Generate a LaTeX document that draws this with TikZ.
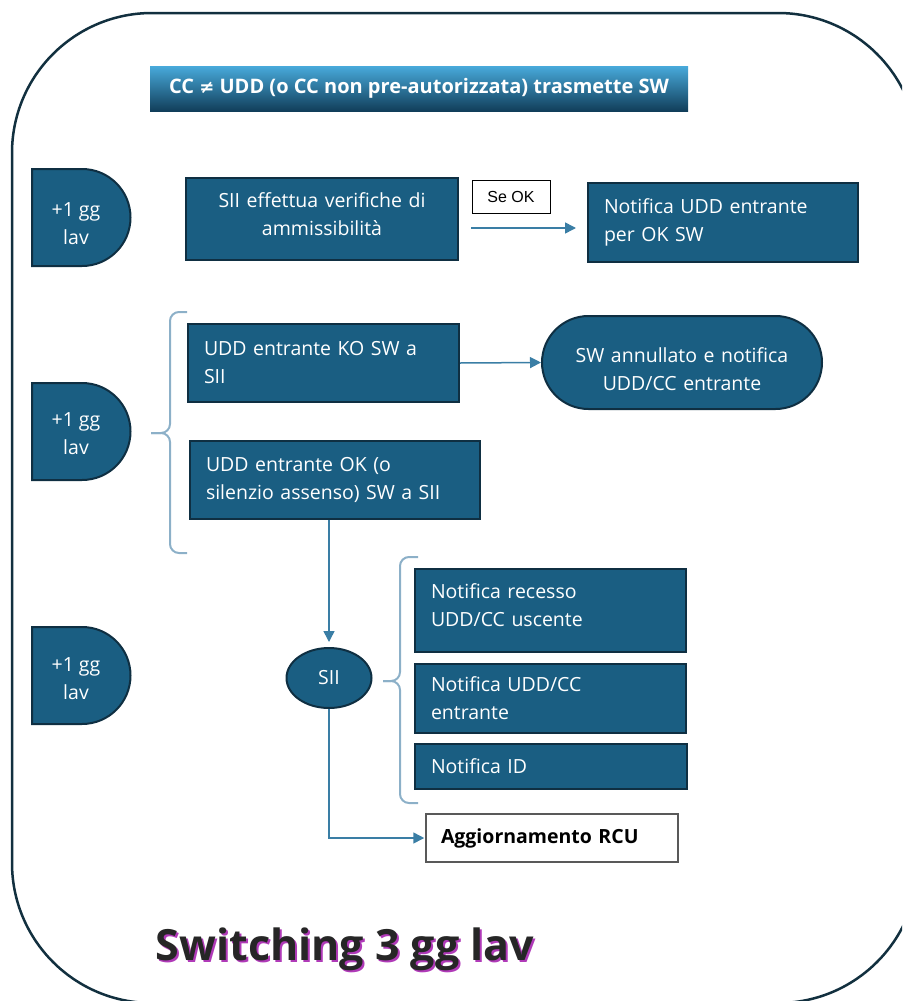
\documentclass[tikz,border=0pt]{standalone}
\usepackage{fontspec}
\setmainfont{Open Sans}
\newfontfamily\symf{DejaVu Sans}
\newfontfamily\arialf{Liberation Sans}
\usetikzlibrary{arrows.meta,calc,shapes.geometric}
\definecolor{boxfill}{HTML}{1A5E82}
\definecolor{boxline}{HTML}{0F2F42}
\definecolor{conn}{HTML}{3A7EA5}
\definecolor{bracec}{HTML}{8CB0C8}
\definecolor{outlinec}{HTML}{12303F}
\definecolor{bantop}{HTML}{48AADB}
\definecolor{banbot}{HTML}{113E5A}
\definecolor{shadowc}{HTML}{B03AB8}
\definecolor{titlec}{HTML}{262626}
\tikzset{
  bx/.style={draw=boxline, line width=2pt, fill=boxfill, text=white, inner ysep=0pt,
    font=\fontsize{19.5}{28}\selectfont},
  bxc/.style={bx, align=center, inner xsep=0pt},
  bxl/.style={bx, align=left, inner xsep=16pt},
  dayshape/.style={draw=boxline, line width=2pt, fill=boxfill},
  daytext/.style={text=white, align=center, font=\fontsize{19.5}{28}\selectfont},
  arr/.style={draw=conn, line width=1.5pt, -{Triangle[length=11pt,width=11pt]}},
  brc/.style={draw=bracec, line width=2pt, rounded corners=9pt},
}
\begin{document}
\begin{tikzpicture}[x=1pt,y=-1pt]
\useasboundingbox (0,0) rectangle (902,1001);
\clip (0,0) rectangle (902,1001);
% outer frame
\draw[draw=outlinec, line width=2.5pt, rounded corners=140pt] (12,13) rectangle (918,1003);
% banner
\node (ban) [top color=bantop, bottom color=banbot, minimum width=538pt, minimum height=45pt,
  inner sep=0pt, text=white, font=\bfseries\fontsize{20}{24}\selectfont]
  at (419,88.5) {CC {\symf\bfseries\fontsize{18}{24}\selectfont ≠} UDD (o CC non pre-autorizzata) trasmette SW};
% day markers
\foreach \t/\n/\ty in {169/d1/224, 383/d2/433.5, 627/d3/678.5}{
  \draw[dayshape] (32,\t) -- (82,\t) arc[start angle=-90, end angle=90, radius=48.5] -- (32,\t+97) -- cycle;
  \node (\n) [daytext] at (76,\ty) {+1 gg\\lav};
}
% row 1
\node (sii1) [bxc, text width=272pt, minimum height=82pt] at (322,219)
  {SII effettua verifiche di\\ammissibilità\vspace{10pt}};
\node (seok) [draw=black, line width=1pt, fill=white, minimum width=78pt, minimum height=33pt,
  inner sep=0pt, font=\arialf\fontsize{16}{18}\selectfont] at (511,196.5) {Se OK};
\node (notif) [bxl, text width=238pt, minimum height=79pt] at (723,222.5)
  {Notifica UDD entrante\\per OK SW};
\draw[arr] ($(sii1.east)+(12,9)$) -- ($(notif.west |- sii1.east)+(-11,9)$);
% row 2
\node (ko) [bxl, text width=239pt, minimum height=78pt] at (323.5,363)
  {UDD entrante KO SW a\\SII};
\node (stad) [bxc, text width=280pt, rounded corners=46.5pt, minimum height=93pt] at (682,362.5)
  {\rule{0pt}{29pt}SW annullato e notifica\\UDD/CC entrante};
\node (okb) [bxl, text width=258pt, minimum height=78pt] at (335,480)
  {UDD entrante OK (o\\silenzio assenso) SW a SII};
\draw[arr] (ko.east) -- (stad.west);
\draw[brc] (187,312) -- (170,312) -- (170,433) -- (151,433);
\draw[brc] (187,553) -- (170,553) -- (170,433) -- (151,433);
% row 3
\node (sii2) [draw=boxline, line width=2pt, fill=boxfill, ellipse, minimum width=85pt, minimum height=60pt,
  inner sep=0pt, text=white, font=\fontsize{19.5}{22}\selectfont] at (329,678) {SII};
\draw[arr, shorten >=5pt] (okb.south -| sii2.north) -- (sii2.north);
\node (n1) [bxl, text width=239pt, minimum height=83pt] at (550.5,610.5)
  {Notifica recesso\\UDD/CC uscente\vspace{10pt}};
\node (n2) [bxl, text width=239pt, minimum height=69pt] at (550.5,698.5)
  {Notifica UDD/CC\\entrante};
\node (n3) [bxl, text width=240pt, minimum height=45pt] at (551,766.5)
  {Notifica ID};
\draw[brc] (418,557) -- (400,557) -- (400,681) -- (383,681);
\draw[brc] (418,803) -- (400,803) -- (400,681) -- (383,681);
\node (rcu) [draw=black!65, line width=1.5pt, fill=white, text width=222pt, minimum height=48pt,
  inner xsep=15pt, inner ysep=0pt, align=left, font=\bfseries\fontsize{19.5}{22}\selectfont] at (552,838)
  {Aggiornamento RCU};
\draw[arr, shorten >=1pt] (sii2.south) |- (rcu.west);
% title
\node (ttlsh) [text=shadowc, font=\bfseries\fontsize{43}{50}\selectfont] at (347,951) {Switching 3 gg lav};
\node (ttl) [text=titlec, font=\bfseries\fontsize{43}{50}\selectfont] at (345,949) {Switching 3 gg lav};
\end{tikzpicture}
\end{document}
